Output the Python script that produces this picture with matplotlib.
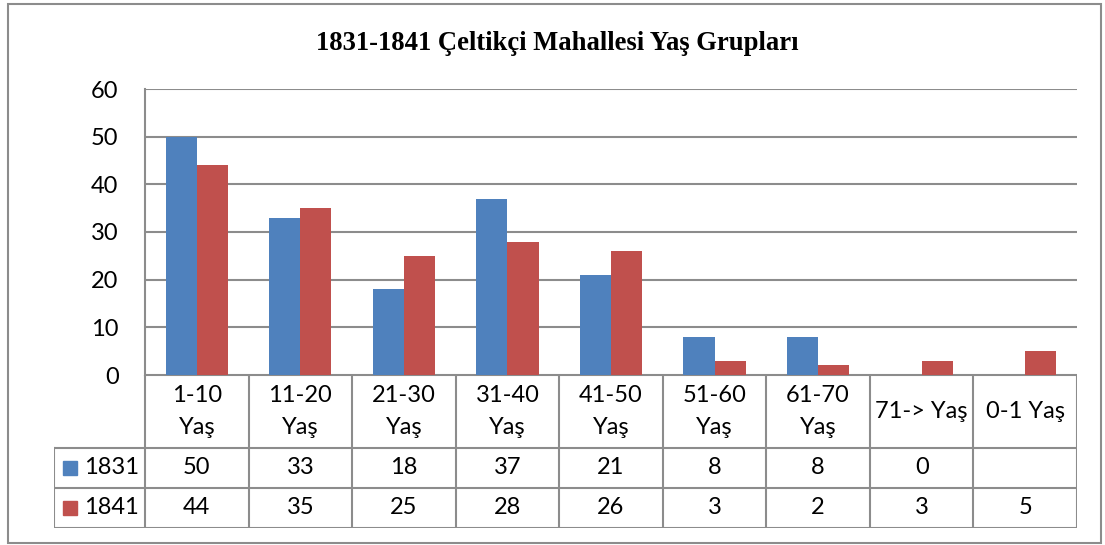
import numpy as np
import matplotlib.pyplot as plt
from matplotlib.patches import Rectangle
from matplotlib.lines import Line2D

title = "1831-1841 Çeltikçi Mahallesi Yaş Grupları"
categories = ["1-10\nYaş", "11-20\nYaş", "21-30\nYaş", "31-40\nYaş", "41-50\nYaş",
              "51-60\nYaş", "61-70\nYaş", "71-> Yaş", "0-1 Yaş"]
series_names = ["1831", "1841"]
values_1831 = [50, 33, 18, 37, 21, 8, 8, 0, None]
values_1841 = [44, 35, 25, 28, 26, 3, 2, 3, 5]
colors = ["#4F81BD", "#C0504D"]
grid_color = "#8C8C8C"

W, H = 1105, 545
fig = plt.figure(figsize=(W / 100, H / 100), dpi=100)
label_font = "Lato"
fs = 17

# outer frame
fig.add_artist(Rectangle((8 / W, 1 - 543 / H), (1101 - 8) / W, (543 - 4) / H,
                         transform=fig.transFigure, fill=False,
                         edgecolor=grid_color, linewidth=1.5))

fig.text(557 / W, 1 - 43 / H, title, ha="center", va="center",
         fontsize=19.2, fontweight="bold", family="Liberation Serif")

# plot area
ax = fig.add_axes([145 / W, 1 - 375 / H, 932 / W, 286 / H])
n = len(categories)
x = np.arange(n)
bw = 0.3
v1 = [np.nan if v is None else v for v in values_1831]
v2 = [np.nan if v is None else v for v in values_1841]
ax.bar(x - bw / 2, v1, bw, color=colors[0], zorder=3)
ax.bar(x + bw / 2, v2, bw, color=colors[1], zorder=3)
ax.set_xlim(-0.5, n - 0.5)
ax.set_ylim(0, 60)
ax.set_yticks(range(0, 61, 10))
ax.set_xticks([])
ax.yaxis.grid(True, color=grid_color, linewidth=1.5, zorder=0)
ax.tick_params(axis="y", length=0, pad=19, labelsize=fs)
for lab in ax.get_yticklabels():
    lab.set_fontfamily(label_font)
for side in ["top", "right", "bottom"]:
    ax.spines[side].set_visible(False)
ax.spines["left"].set_color(grid_color)
ax.spines["left"].set_linewidth(1.5)

# data table below the plot
left_w = (145 - 54) / (932 / n)
tb = fig.add_axes([54 / W, 1 - 528 / H, (1077 - 54) / W, 153 / H])
tb.set_xlim(-0.5 - left_w, n - 0.5)
tb.set_ylim(0, 153)
tb.axis("off")
lk = dict(color=grid_color, linewidth=1.5)

# horizontal lines
tb.add_line(Line2D([-0.5, n - 0.5], [153, 153], **lk))
for yy in [0, 40, 80]:
    tb.add_line(Line2D([-0.5 - left_w, n - 0.5], [yy, yy], **lk))
# vertical lines
tb.add_line(Line2D([-0.5 - left_w] * 2, [0, 80], **lk))
for i in range(n + 1):
    tb.add_line(Line2D([i - 0.5] * 2, [0, 153], **lk))

for i, cat in enumerate(categories):
    tb.text(i, 116.5, cat, ha="center", va="center", fontsize=fs,
            family=label_font, linespacing=1.6)
    if values_1831[i] is not None:
        tb.text(i, 60, str(values_1831[i]), ha="center", va="center",
                fontsize=fs, family=label_font)
    if values_1841[i] is not None:
        tb.text(i, 20, str(values_1841[i]), ha="center", va="center",
                fontsize=fs, family=label_font)

unit = 932 / n
for j, (name, c) in enumerate(zip(series_names, colors)):
    yc = 60 - 40 * j
    x0 = -0.5 - left_w + 9 / unit
    tb.add_patch(Rectangle((x0, yc - 7), 14 / unit, 14, color=c))
    tb.text(x0 + 21 / unit, yc, name, ha="left", va="center",
            fontsize=fs, family=label_font)

fig.savefig("out.png", dpi=100)
